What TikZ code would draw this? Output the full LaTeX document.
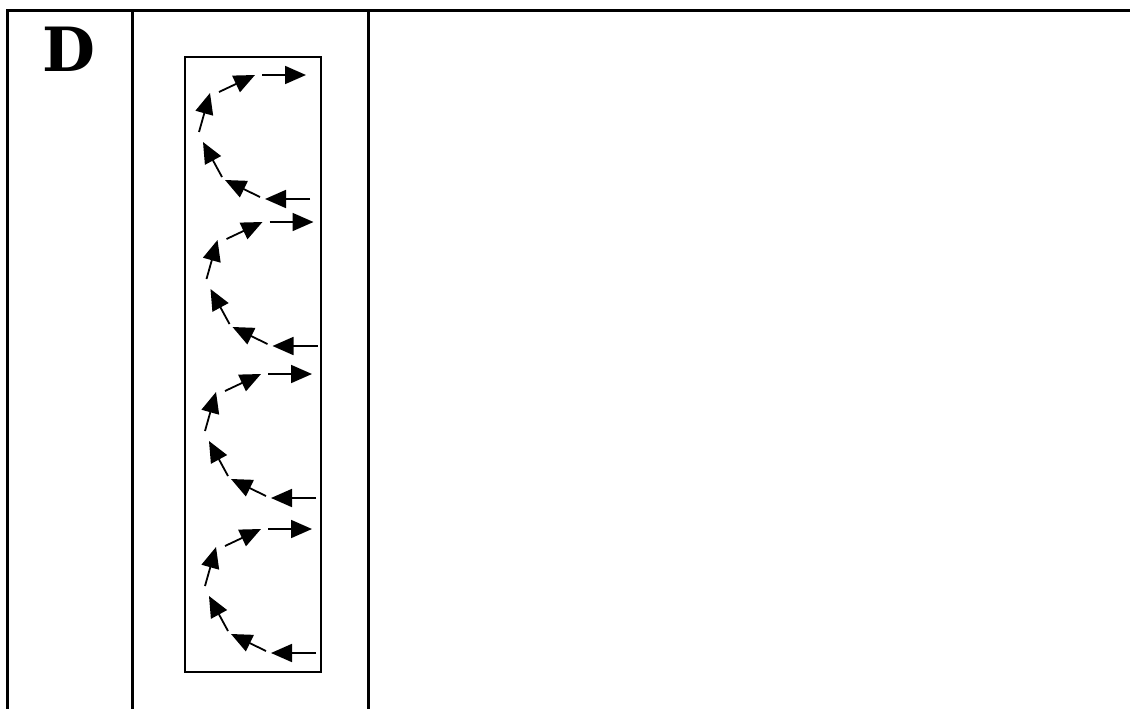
\documentclass[tikz,border=0pt]{standalone}
\usepackage{fontspec}
\setmainfont{DejaVu Serif}
\usetikzlibrary{arrows.meta}
\begin{document}
\begin{tikzpicture}[x=1pt,y=-1pt,
  rule/.style={line width=3pt},
  frame/.style={line width=1.8pt},
  flow/.style={line width=1.8pt,-{Triangle[length=21pt,width=18pt]}}]
\useasboundingbox (0,0) rectangle (1130,709);
% table rules
\draw[rule] (7.5,720) -- (7.5,11) -- (1140,11);
\draw[rule] (132,11) -- (132,720);
\draw[rule] (368,11) -- (368,720);
% letter
\node[inner sep=0pt,font=\fontsize{61}{64}\selectfont\bfseries] (lab) at (69,49.5) {D};
% inner frame
\draw[frame] (185,57) rectangle (321,672);
% four C-shaped arrow sequences
\foreach \dx/\dy in {0/0, 7.5/147, 6/299, 6/454} {
  \begin{scope}[shift={(\dx,\dy)}]
    \coordinate (a1s) at (262,75);  \coordinate (a1e) at (306,75);
    \coordinate (a2s) at (219,92);  \coordinate (a2e) at (255,75);
    \coordinate (a3s) at (199,132); \coordinate (a3e) at (210,93);
    \coordinate (a4s) at (222,177); \coordinate (a4e) at (203,142);
    \coordinate (a5s) at (260,197); \coordinate (a5e) at (225,180);
    \coordinate (a6s) at (310,199); \coordinate (a6e) at (265,199);
    \draw[flow] (a1s) -- (a1e);
    \draw[flow] (a2s) -- (a2e);
    \draw[flow] (a3s) -- (a3e);
    \draw[flow] (a4s) -- (a4e);
    \draw[flow] (a5s) -- (a5e);
    \draw[flow] (a6s) -- (a6e);
  \end{scope}
}
\end{tikzpicture}
\end{document}
